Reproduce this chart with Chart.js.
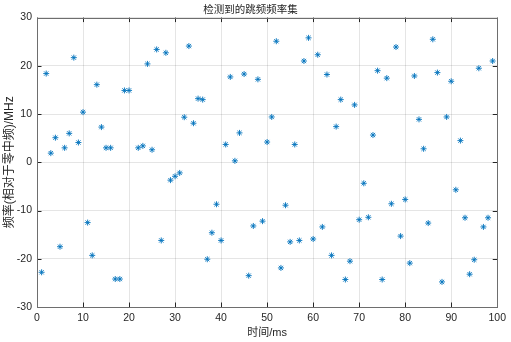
<!DOCTYPE html>
<html>
<head>
<meta charset="utf-8">
<script src="https://cdn.jsdelivr.net/npm/chart.js@4/dist/chart.umd.min.js"></script>
<style>
html,body{margin:0;padding:0;background:#fff;}
#c{display:block;}
</style>
</head>
<body>
<canvas id="c" width="511" height="342"></canvas>
<script>
const titleText = '检测到的跳频频率集';
const xLabel = '时间/ms';
const yLabel = '频率(相对于零中频)/MHz';
const xTicks = [0,10,20,30,40,50,60,70,80,90,100];
const yTicks = [-30,-20,-10,0,10,20,30];

const times = [1,2,3,4,5,6,7,8,9,10,11,12,13,14,15,16,17,18,19,20,
  22,23,24,25,26,27,28,29,30,31,32,33,34,35,36,37,38,39,40,
  41,42,43,44,45,46,47,48,49,50,51,52,53,54,55,56,57,58,59,60,
  61,62,63,64,65,66,67,68,69,70,71,72,73,74,75,76,77,78,79,80,
  81,82,83,84,85,86,87,88,89,90,91,92,93,94,95,96,97,98,99];
const freqs = [-22.8,18.4,1.9,5.1,-17.5,3.0,6.0,21.7,4.1,10.4,-12.5,-19.3,16.1,7.3,3.0,3.0,-24.2,-24.2,14.9,14.9,
  3.0,3.4,20.4,2.6,23.4,-16.2,22.7,-3.7,-2.9,-2.2,9.35,24.1,8.1,13.2,13.0,-20.1,-14.6,-8.7,-16.2,
  3.7,17.7,0.3,6.1,18.3,-23.5,-13.2,17.2,-12.2,4.2,9.4,25.1,-21.9,-8.9,-16.5,3.7,-16.2,21.0,25.8,-15.9,
  22.3,-13.4,18.2,-19.3,7.4,13.0,-24.3,-20.5,11.9,-11.9,-4.35,-11.4,5.65,19.0,-24.3,17.45,-8.6,23.9,-15.3,-7.7,
  -20.9,17.9,8.9,2.8,-12.6,25.5,18.6,-24.8,9.4,16.8,-5.7,4.5,-11.5,-23.2,-20.2,19.5,-13.4,-11.5,21.0];

const points = times.map((t,i)=>({x:t,y:freqs[i]}));

const boxPlugin = {
  id:'box',
  afterDraw(chart){
    const {ctx, chartArea:{left,right,top,bottom}} = chart;
    const xs = chart.scales.x, ys = chart.scales.y;
    const L = 4.5;
    ctx.save();
    ctx.strokeStyle = '#262626';
    ctx.lineWidth = 1;
    ctx.beginPath();
    xs.ticks.forEach(t=>{
      const p = Math.round(xs.getPixelForValue(t.value))+0.5;
      ctx.moveTo(p,bottom); ctx.lineTo(p,bottom-L);
      ctx.moveTo(p,top); ctx.lineTo(p,top+L);
    });
    ys.ticks.forEach(t=>{
      const p = Math.round(ys.getPixelForValue(t.value))+0.5;
      ctx.moveTo(left,p); ctx.lineTo(left+L,p);
      ctx.moveTo(right,p); ctx.lineTo(right-L,p);
    });
    ctx.stroke();
    ctx.strokeStyle = '#6e6e6e';
    ctx.strokeRect(Math.round(left)+0.5, Math.round(top)+0.5, Math.round(right-left), Math.round(bottom-top));
    ctx.restore();
  }
};

const tickFont = {family:"'Liberation Sans', Arial, sans-serif", size:10.5};
const cjkFont = "'Liberation Sans', 'Noto Sans CJK SC', sans-serif";

new Chart(document.getElementById('c'), {
  type:'scatter',
  data:{datasets:[{
    data: points,
    pointStyle:'star',
    radius:3,
    borderColor:'rgba(0,114,189,0.9)',
    backgroundColor:'#0072BD',
    borderWidth:1
  }]},
  options:{
    responsive:false,
    animation:false,
    layout:{padding:{left:0,right:10,top:0,bottom:0}},
    plugins:{
      legend:{display:false},
      tooltip:{enabled:false},
      title:{display:true,text:titleText,color:'#262626',
        font:{family:"'Noto Sans CJK SC', sans-serif",size:10.5,weight:'normal'},
        padding:{top:3,bottom:2}}
    },
    scales:{
      x:{
        type:'linear', min:0, max:100,
        afterBuildTicks(s){ s.ticks = xTicks.map(v=>({value:v})); },
        afterFit(s){ s.height = 35; },
        grid:{color:'rgba(38,38,38,0.12)',drawTicks:false},
        border:{display:false},
        ticks:{color:'#262626',font:tickFont,padding:5,maxRotation:0},
        title:{display:true,text:xLabel,color:'#262626',
          font:{family:cjkFont,size:11},padding:{top:0,bottom:2}}
      },
      y:{
        type:'linear', min:-30, max:30,
        afterBuildTicks(s){ s.ticks = yTicks.map(v=>({value:v})); },
        afterFit(s){ s.width = 37; },
        grid:{color:'rgba(38,38,38,0.12)',drawTicks:false},
        border:{display:false},
        ticks:{color:'#262626',font:tickFont,padding:5},
        title:{display:true,text:yLabel,color:'#262626',
          font:{family:cjkFont,size:12},padding:{top:2,bottom:0}}
      }
    }
  },
  plugins:[boxPlugin]
});
</script>
</body>
</html>
